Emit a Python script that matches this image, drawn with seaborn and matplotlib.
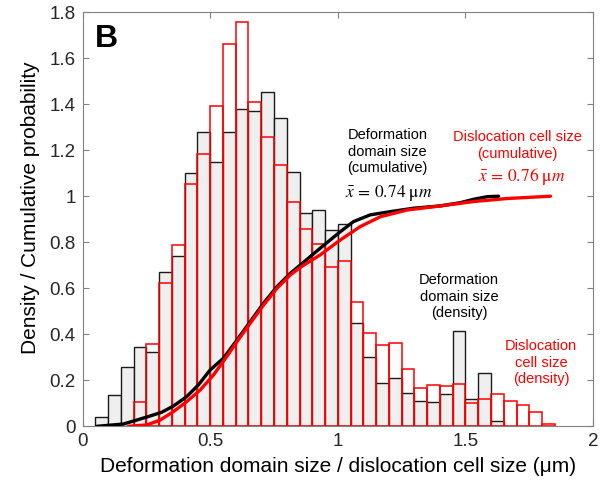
import numpy as np
import pandas as pd
import matplotlib
matplotlib.use("Agg")
import matplotlib.pyplot as plt
import seaborn as sns

# Histogram bin width (µm)
bin_width = 0.05

# Deformation domain size: density per bin, bins starting at 0.05 µm
domain_bin_left = np.round(np.arange(0.05, 1.65, 0.05), 3)
domain_density = [0.040, 0.136, 0.258, 0.346, 0.322, 0.671, 0.742, 1.103,
                  1.278, 1.148, 1.278, 1.378, 1.370, 1.453, 1.342, 1.104,
                  0.926, 0.942, 0.855, 0.880, 0.451, 0.301, 0.190, 0.211,
                  0.145, 0.110, 0.104, 0.139, 0.416, 0.119, 0.232, 0.024]

# Dislocation cell size: density per bin, bins starting at 0.20 µm
cell_bin_left = np.round(np.arange(0.20, 1.85, 0.05), 3)
cell_density = [0.107, 0.359, 0.625, 0.787, 1.053, 1.184, 1.394, 1.661,
                1.757, 1.409, 1.257, 1.137, 0.977, 0.858, 0.794, 0.693,
                0.719, 0.540, 0.406, 0.353, 0.361, 0.251, 0.167, 0.180,
                0.175, 0.183, 0.101, 0.120, 0.139, 0.110, 0.091, 0.064,
                0.010]

# Cumulative probability curves
domain_cum_x = [0.056, 0.16, 0.212, 0.265, 0.31, 0.356, 0.408, 0.454, 0.5,
                0.552, 0.605, 0.657, 0.709, 0.762, 0.814, 0.853, 0.931, 1.01,
                1.062, 1.127, 1.206, 1.297, 1.402, 1.48, 1.533, 1.585, 1.63]
domain_cum_y = [0.0, 0.01, 0.027, 0.045, 0.061, 0.088, 0.129, 0.18, 0.245,
                0.296, 0.375, 0.455, 0.535, 0.607, 0.665, 0.701, 0.774, 0.846,
                0.89, 0.919, 0.933, 0.948, 0.958, 0.972, 0.987, 0.998, 1.0]
cell_cum_x = [0.18, 0.252, 0.304, 0.356, 0.408, 0.461, 0.513, 0.565, 0.605,
              0.657, 0.709, 0.762, 0.814, 0.853, 0.931, 1.01, 1.088, 1.167,
              1.271, 1.402, 1.533, 1.663, 1.833]
cell_cum_y = [0.0, 0.006, 0.027, 0.064, 0.107, 0.158, 0.223, 0.303, 0.368,
              0.448, 0.527, 0.6, 0.658, 0.691, 0.745, 0.81, 0.868, 0.911,
              0.94, 0.958, 0.977, 0.99, 1.0]

x_ticks = [0, 0.5, 1, 1.5, 2]
x_tick_labels = ["0", "0.5", "1", "1.5", "2"]
y_ticks = [0, 0.2, 0.4, 0.6, 0.8, 1.0, 1.2, 1.4, 1.6, 1.8]
y_tick_labels = ["0", "0.2", "0.4", "0.6", "0.8", "1", "1.2", "1.4", "1.6", "1.8"]

sns.set_theme(style="white")
plt.rcParams["font.family"] = ["Liberation Sans", "DejaVu Sans"]
plt.rcParams["mathtext.fontset"] = "stix"

fig = plt.figure(figsize=(6.0, 4.86), dpi=100)
ax = fig.add_axes([0.1375, 0.1228, 0.851, 0.8522])


def edges_for(lefts):
    lefts = list(np.round(lefts, 3))
    return [float(v) for v in lefts] + [float(round(lefts[-1] + bin_width, 3))]


domain_df = pd.DataFrame({"x": domain_bin_left + bin_width / 2,
                          "w": domain_density})
cell_df = pd.DataFrame({"x": cell_bin_left + bin_width / 2,
                        "w": cell_density})

sns.histplot(data=domain_df, x="x", weights="w",
             bins=edges_for(domain_bin_left), stat="count",
             color="#efefef", edgecolor="#1a1a1a", linewidth=1.0,
             alpha=1.0, ax=ax, zorder=1)
sns.histplot(data=cell_df, x="x", weights="w",
             bins=edges_for(cell_bin_left), stat="count", fill=False,
             color="#ff0000", edgecolor="#ff0000", linewidth=1.1,
             ax=ax, zorder=2)

sns.lineplot(x=domain_cum_x, y=domain_cum_y, color="black", linewidth=2.4,
             sort=False, ax=ax, zorder=3)
sns.lineplot(x=cell_cum_x, y=cell_cum_y, color="#ff0000", linewidth=2.4,
             sort=False, ax=ax, zorder=4)

ax.set_xlim(0, 2)
ax.set_ylim(0, 1.8)
ax.set_xticks(x_ticks)
ax.set_xticklabels(x_tick_labels)
ax.set_yticks(y_ticks)
ax.set_yticklabels(y_tick_labels)
ax.tick_params(direction="in", length=4, width=0.8, color="#808080",
               labelsize=13.5, labelcolor="#262626", top=True, right=True,
               bottom=True, left=True, pad=5)
for s in ax.spines.values():
    s.set_color("#808080")
    s.set_linewidth(0.8)
    s.set_visible(True)

ax.set_xlabel("Deformation domain size / dislocation cell size (μm)",
              fontsize=15, color="black", labelpad=5)
ax.set_ylabel("Density / Cumulative probability", fontsize=15,
              color="black")
ax.yaxis.set_label_coords(-0.083, 0.527)

ax.text(0.05, 1.75, "B", fontsize=23, fontweight="bold", ha="left",
        va="top", color="black")

txt = dict(fontsize=10.5, ha="center", va="top", linespacing=1.25)
ax.text(1.195, 1.297, "Deformation\ndomain size\n(cumulative)",
        color="black", **txt)
ax.text(1.2, 1.014, r"$\bar{x}\,=\,0.74\ \mathrm{μ}m$", fontsize=12.5,
        ha="center", va="center", color="black")
ax.text(1.704, 1.288, "Dislocation cell size\n(cumulative)",
        color="#ff0000", **txt)
ax.text(1.72, 1.085, r"$\bar{x}\,=\,0.76\ \mathrm{μ}m$", fontsize=12.5,
        ha="center", va="center", color="#ff0000")
ax.text(1.475, 0.667, "Deformation\ndomain size\n(density)",
        color="black", **txt)
ax.text(1.797, 0.38, "Dislocation\ncell size\n(density)",
        color="#ff0000", **txt)

fig.savefig("out.png", dpi=100)
